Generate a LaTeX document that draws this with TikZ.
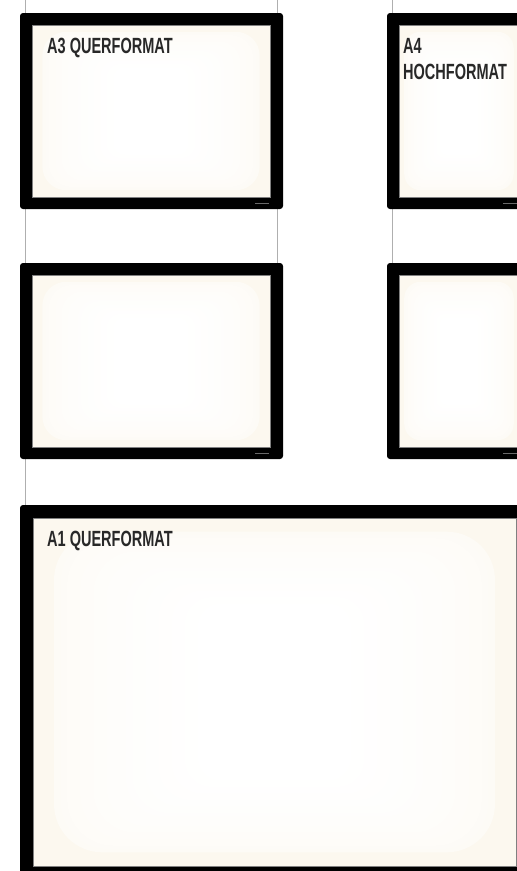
\documentclass[tikz,border=0pt]{standalone}
\usepackage{fontspec}
\newfontfamily\condfont[FakeStretch=0.66]{Liberation Sans}
\definecolor{cream}{RGB}{252,248,239}
\definecolor{wire}{RGB}{175,175,175}
\definecolor{txt}{RGB}{40,40,40}
\definecolor{logo}{RGB}{105,105,105}
\newcommand{\glowfill}[4]{%
  \fill[cream] (#1,#2) rectangle (#3,#4);
  \pgfmathsetmacro\gcx{(#1+#3)/2}%
  \pgfmathsetmacro\gcy{(#2+#4)/2}%
  \pgfmathsetmacro\gw{(#3-#1)/2}%
  \pgfmathsetmacro\gh{(#4-#2)/2}%
  \foreach \i in {1,...,24}{%
    \pgfmathsetmacro\t{\i/24}%
    \pgfmathsetmacro\hw{\gw*(0.94-\t*0.65)}%
    \pgfmathsetmacro\hh{\gh*(0.94-\t*0.45)}%
    \pgfmathsetmacro\rr{0.3*min(\hw,\hh)}%
    \pgfmathsetmacro\pc{30+70*(\t^0.5)}%
    \fill[white!\pc!cream, rounded corners=\rr pt] (\gcx-\hw,\gcy-\hh) rectangle (\gcx+\hw,\gcy+\hh);
  }%
  \draw[black!50, line width=0.6pt] (#1,#2) rectangle (#3,#4);
}
\begin{document}
\begin{tikzpicture}[x=1pt,y=-1pt,
  lbl/.style={font=\condfont\bfseries\fontsize{22}{26}\selectfont, text=txt, inner sep=0pt, anchor=base west},
  wireline/.style={draw=wire, line width=1pt},
  framebox/.style={fill=black, rounded corners=3pt},
  logomark/.style={draw=logo, line width=1pt}]
\useasboundingbox (0,0) rectangle (517,871);
\clip (0,0) rectangle (517,871);
\fill[white] (0,0) rectangle (517,871);

% wire coordinates
\coordinate (wl0) at (25,0);   \coordinate (wl1) at (25,13);
\coordinate (wl2) at (25,209); \coordinate (wl3) at (25,263);
\coordinate (wl4) at (25,459); \coordinate (wl5) at (25,505);
\coordinate (wr0) at (277,0);  \coordinate (wr1) at (277,13);
\coordinate (wr2) at (277,209);\coordinate (wr3) at (277,263);
\coordinate (wa0) at (392,0);  \coordinate (wa1) at (392,13);
\coordinate (wa2) at (392,209);\coordinate (wa3) at (392,263);
\draw[wireline] (wl0) -- (wl1) (wl2) -- (wl3) (wl4) -- (wl5);
\draw[wireline] (wr0) -- (wr1) (wr2) -- (wr3);
\draw[wireline] (wa0) -- (wa1) (wa2) -- (wa3);

% A3 top
\fill[framebox] (20,13) rectangle (283,209);
\glowfill{32}{25}{270}{197}
\draw[logomark] (255,203) -- (269,203);
% A3 bottom
\fill[framebox] (20,263) rectangle (283,459);
\glowfill{32}{275}{270}{447}
\draw[logomark] (255,453) -- (269,453);
% A4 top
\fill[framebox] (387,13) rectangle (531,209);
\glowfill{399}{25}{519}{197}
\draw[logomark] (503,203) -- (517,203);
% A4 bottom
\fill[framebox] (387,263) rectangle (531,459);
\glowfill{399}{275}{519}{447}
\draw[logomark] (503,453) -- (517,453);
% A1
\fill[framebox] (20,505) rectangle (529,879);
\glowfill{33}{518}{516}{866}

% labels
\node[lbl] (tA3) at (47,53) {A3 QUERFORMAT};
\node[lbl] (tA4a) at (403,53) {A4};
\node[lbl] (tA4b) at (403,79) {HOCHFORMAT};
\node[lbl] (tA1) at (47,546) {A1 QUERFORMAT};
\end{tikzpicture}
\end{document}
